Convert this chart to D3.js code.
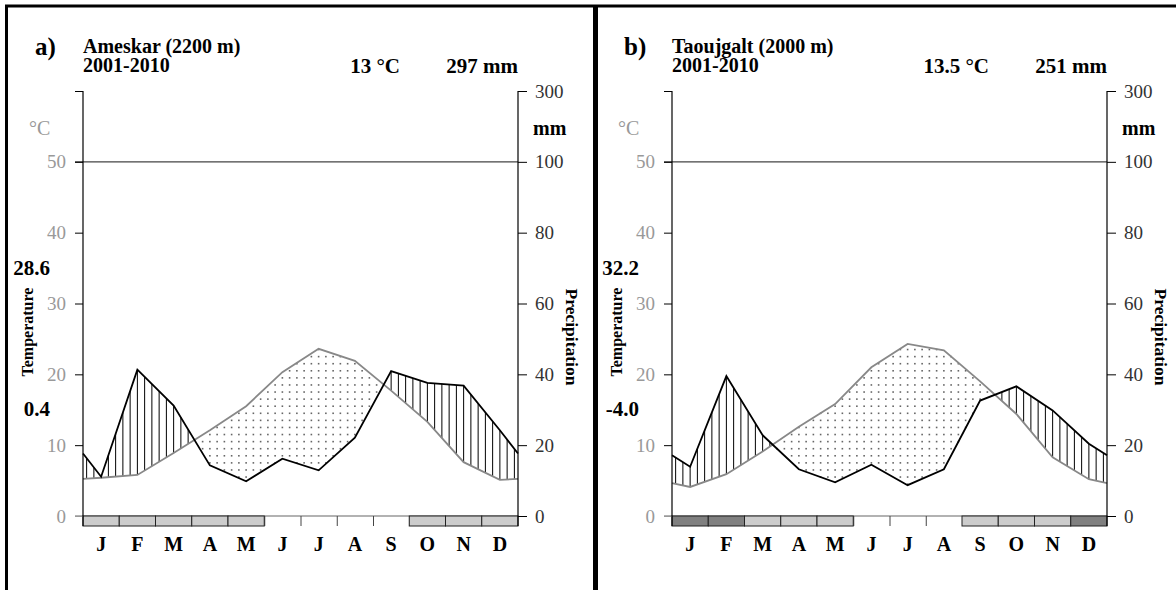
<!DOCTYPE html>
<html>
<head>
<meta charset="utf-8">
<script src="https://cdn.jsdelivr.net/npm/d3@7"></script>
<style>
  body { margin: 0; background: #fff; }
  svg { display: block; font-family: "Liberation Serif", "Times New Roman", serif; }
</style>
</head>
<body>
<div id="root"></div>
<script>
const months = ["J", "F", "M", "A", "M", "J", "J", "A", "S", "O", "N", "D"];
const tempTicks = [0, 10, 20, 30, 40, 50, 60];
const precTicks = [0, 20, 40, 60, 80, 100, 300];

// a) Ameskar
const tempAmeskar = [5.4, 5.8, 8.9, 12.1, 15.5, 20.3, 23.6, 21.9, 17.7, 13.3, 7.6, 5.1];
const precAmeskar = [11.1, 41.3, 31.2, 14.3, 9.8, 16.2, 12.9, 22.1, 40.9, 37.6, 36.8, 24.2];
// 0 = no frost, 1 = probable frost, 2 = certain frost
const frostAmeskar = [1, 1, 1, 1, 1, 0, 0, 0, 0, 1, 1, 1];

// b) Taoujgalt
const tempTaoujgalt = [4.1, 5.9, 9.1, 12.6, 15.8, 21.0, 24.3, 23.4, 19.0, 14.4, 8.3, 5.2];
const precTaoujgalt = [13.9, 39.5, 22.8, 13.2, 9.5, 14.5, 8.7, 13.2, 32.6, 36.6, 29.8, 20.4];
const frostTaoujgalt = [2, 2, 1, 1, 1, 0, 0, 0, 1, 1, 1, 2];

const panels = [
  { tag: "a)", name: "Ameskar (2200 m)", period: "2001-2010", meanT: "13 °C", sumP: "297 mm",
    maxT: "28.6", minT: "0.4", temp: tempAmeskar, prec: precAmeskar, frost: frostAmeskar, dx: 0 },
  { tag: "b)", name: "Taoujgalt (2000 m)", period: "2001-2010", meanT: "13.5 °C", sumP: "251 mm",
    maxT: "32.2", minT: "-4.0", temp: tempTaoujgalt, prec: precTaoujgalt, frost: frostTaoujgalt, dx: 589 }
];

const width = 1176;
const height = 590;

const svg = d3.select("#root")
  .append("svg")
  .attr("width", width)
  .attr("height", height);

// frame lines
svg.append("line").attr("x1", 5).attr("x2", width).attr("y1", 6).attr("y2", 6)
  .attr("stroke", "#000").attr("stroke-width", 3);
svg.append("line").attr("x1", 6.5).attr("x2", 6.5).attr("y1", 5).attr("y2", height)
  .attr("stroke", "#000").attr("stroke-width", 3);
svg.append("line").attr("x1", 595.5).attr("x2", 595.5).attr("y1", 5).attr("y2", height)
  .attr("stroke", "#000").attr("stroke-width", 5);

panels.forEach(drawPanel);

function drawPanel(p) {
  const g = svg.append("g").attr("transform", `translate(${p.dx},0)`);

  const x = d3.scaleLinear().domain([0, 12]).range([83, 518]);
  const yT = d3.scaleLinear().domain([0, 60]).range([516, 91]);
  const yP = d3.scaleLinear().domain([0, 100, 300]).range([516, yT(50), 91]);

  // month centres plus the two edges (mean of Dec and Jan)
  const xs = [0, ...months.map((m, i) => i + 0.5), 12];
  const wrap = a => { const e = (a[0] + a[11]) / 2; return [e, ...a, e]; };
  const tW = wrap(p.temp);
  const pW = wrap(p.prec);
  const tAt = d3.scaleLinear().domain(xs).range(tW);
  const pAt = d3.scaleLinear().domain(xs).range(pW);

  // hatching (humid) and dots (arid)
  const cols = d3.range(60).map(k => (k + 0.5) / 5);
  const humid = cols.filter(v => yP(pAt(v)) < yT(tAt(v)) - 0.5);
  g.append("g").selectAll("line")
    .data(humid)
    .enter()
    .append("line")
    .attr("x1", v => x(v)).attr("x2", v => x(v))
    .attr("y1", v => yP(pAt(v)))
    .attr("y2", v => yT(tAt(v)))
    .attr("stroke", "#000")
    .attr("stroke-width", 1);

  const dots = [];
  cols.forEach(v => {
    d3.range(0.5, 40, 1).forEach(t => {
      if (t < tAt(v) && t > pAt(v) / 2) dots.push([v, t]);
    });
  });
  g.append("g").selectAll("rect")
    .data(dots)
    .enter()
    .append("rect")
    .attr("x", d => x(d[0]) - 0.8)
    .attr("y", d => yT(d[1]) - 0.8)
    .attr("width", 1.6)
    .attr("height", 1.6)
    .attr("fill", "#666");

  // reference lines at 0 and 50 / 100
  g.append("line").attr("x1", 75).attr("x2", x(12)).attr("y1", yT(0)).attr("y2", yT(0))
    .attr("stroke", "#999").attr("stroke-width", 1.5);
  g.append("line").attr("x1", 75).attr("x2", x(12)).attr("y1", yT(50)).attr("y2", yT(50))
    .attr("stroke", "#444").attr("stroke-width", 1.2);

  // month boundaries below the zero line
  const xAxis = d3.axisBottom(x).tickValues(d3.range(1, 12)).tickSize(10).tickFormat("").tickSizeOuter(0);
  g.append("g")
    .attr("transform", `translate(0,${yT(0)})`)
    .call(xAxis)
    .call(s => s.select(".domain").remove())
    .selectAll("line").attr("stroke", "#444");

  // frost bars
  const frostFill = ["none", "#cccccc", "#808080"];
  g.append("g").selectAll("rect")
    .data(p.frost.map((f, i) => ({ f, i })).filter(d => d.f > 0))
    .enter()
    .append("rect")
    .attr("x", d => x(d.i))
    .attr("y", yT(0))
    .attr("width", x(1) - x(0))
    .attr("height", 10)
    .attr("fill", d => frostFill[d.f])
    .attr("stroke", "#222")
    .attr("stroke-width", 1);

  // month labels
  g.append("g").selectAll("text")
    .data(months)
    .enter()
    .append("text")
    .attr("x", (d, i) => x(i + 0.5))
    .attr("y", 551)
    .attr("text-anchor", "middle")
    .attr("font-weight", "bold")
    .attr("font-size", 20)
    .text(d => d);

  // curves
  const tLine = d3.line().x((d, i) => x(xs[i])).y(d => yT(d));
  const pLine = d3.line().x((d, i) => x(xs[i])).y(d => yP(d));
  g.append("path").attr("d", tLine(tW)).attr("fill", "none")
    .attr("stroke", "#888").attr("stroke-width", 1.8);
  g.append("path").attr("d", pLine(pW)).attr("fill", "none")
    .attr("stroke", "#000").attr("stroke-width", 1.8);

  // left axis (temperature)
  const yAxisL = d3.axisLeft(yT).tickValues(tempTicks).tickSize(8).tickPadding(9)
    .tickFormat(d => d === 60 ? "" : d);
  g.append("g")
    .attr("transform", `translate(${x(0)},0)`)
    .call(yAxisL)
    .attr("font-family", null)
    .call(s => s.select(".domain").remove())
    .call(s => s.selectAll("text").attr("fill", "#999").attr("font-size", 19))
    .call(s => s.selectAll("line").attr("stroke", d => d === 0 ? "#999" : "#000"));
  g.append("line").attr("x1", x(0)).attr("x2", x(0)).attr("y1", yT(60)).attr("y2", yT(0) + 10)
    .attr("stroke", "#000").attr("stroke-width", 1.2);

  // right axis (precipitation)
  const yAxisR = d3.axisRight(yP).tickValues(precTicks).tickSize(9).tickPadding(8);
  g.append("g")
    .attr("transform", `translate(${x(12)},0)`)
    .call(yAxisR)
    .attr("font-family", null)
    .call(s => s.select(".domain").remove())
    .call(s => s.selectAll("text").attr("fill", "#333").attr("font-size", 19))
    .call(s => s.selectAll("line").attr("stroke", "#000"));
  g.append("line").attr("x1", x(12)).attr("x2", x(12)).attr("y1", yP(300)).attr("y2", yT(0) + 10)
    .attr("stroke", "#000").attr("stroke-width", 1.2);

  // unit labels
  g.append("text").attr("x", 29).attr("y", 135).attr("fill", "#999").attr("font-size", 20).text("°C");
  g.append("text").attr("x", 533).attr("y", 135).attr("font-weight", "bold").attr("font-size", 20).text("mm");

  // axis titles
  g.append("text")
    .attr("transform", "translate(33,332) rotate(-90)")
    .attr("text-anchor", "middle")
    .attr("font-weight", "bold").attr("font-size", 16)
    .text("Temperature");
  g.append("text")
    .attr("transform", "translate(566,337) rotate(90)")
    .attr("text-anchor", "middle")
    .attr("font-weight", "bold").attr("font-size", 17.5)
    .text("Precipitation");

  // extreme temperatures
  g.append("text").attr("x", 50).attr("y", 275).attr("text-anchor", "end")
    .attr("font-weight", "bold").attr("font-size", 21).text(p.maxT);
  g.append("text").attr("x", 50).attr("y", 416).attr("text-anchor", "end")
    .attr("font-weight", "bold").attr("font-size", 21).text(p.minT);

  // header
  g.append("text").attr("x", 35).attr("y", 55)
    .attr("font-weight", "bold").attr("font-size", 25).text(p.tag);
  g.append("text").attr("x", 83).attr("y", 53)
    .attr("font-weight", "bold").attr("font-size", 20).text(p.name);
  g.append("text").attr("x", 83).attr("y", 72)
    .attr("font-weight", "bold").attr("font-size", 20).text(p.period);
  g.append("text").attr("x", 400).attr("y", 73).attr("text-anchor", "end")
    .attr("font-weight", "bold").attr("font-size", 21).text(p.meanT);
  g.append("text").attr("x", 518).attr("y", 73).attr("text-anchor", "end")
    .attr("font-weight", "bold").attr("font-size", 21).text(p.sumP);
}
</script>
</body>
</html>
